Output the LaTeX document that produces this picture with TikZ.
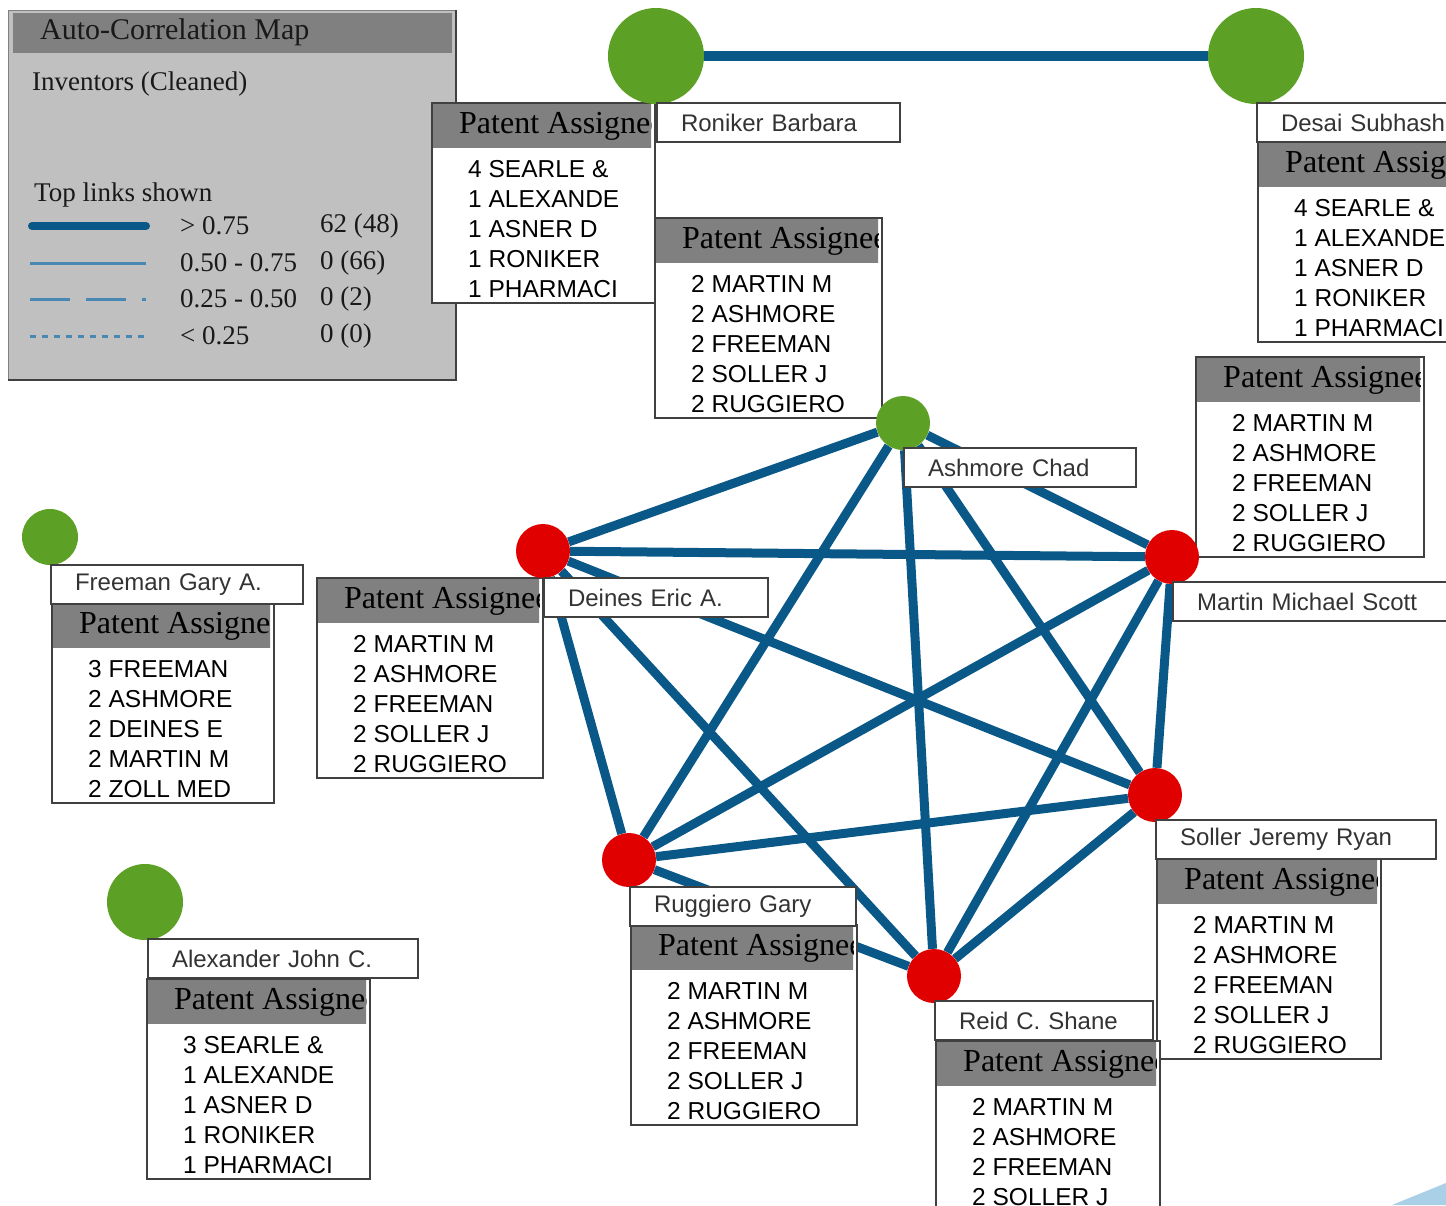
\documentclass[tikz,border=0pt]{standalone}
\usepackage{fontspec}
\setmainfont{Liberation Serif}
\setsansfont{Liberation Sans}
\usetikzlibrary{positioning, calc, backgrounds}

\definecolor{linkblue}{RGB}{10, 88, 136}
\definecolor{lightlink}{RGB}{72, 136, 178}
\definecolor{invgreen}{RGB}{92, 160, 38}
\definecolor{corered}{RGB}{224, 0, 0}
\definecolor{panel}{RGB}{192, 192, 192}
\definecolor{headbar}{RGB}{128, 128, 128}
\definecolor{boxedge}{RGB}{64, 64, 64}
\definecolor{fade}{RGB}{170, 208, 232}

% assignee list of one inventor: key, top-left corner, width, entries
\newcommand{\assignees}[4]{%
  \fill[white] (#2) rectangle ++(#3,200);
  \begin{scope}
    \clip (#2) rectangle ++(#3-4,45);
    \fill[headbar] (#2) rectangle ++(#3,45);
    \node[headtext] (#1-head) at ($(#2)+(27,23)$) {Patent Assignee};
  \end{scope}
  \begin{scope}
    \clip (#2) rectangle ++(#3,200);
    \foreach \entry [count=\i] in {#4}
      \node[listentry] (#1-\i) at ($(#2)+(36,44+30*\i)$) {\entry};
  \end{scope}
  \draw[boxedge, line width=2pt] (#2) rectangle ++(#3,200);}

\begin{document}
\begin{tikzpicture}[x=1pt, y=-1pt,
    inv/.style={circle, inner sep=0pt, fill=invgreen, minimum size=#1},
    core/.style={circle, inner sep=0pt, fill=corered, minimum size=54pt},
    linkline/.style={draw=linkblue, line width=9pt},
    namebox/.style={anchor=north west, draw=boxedge, line width=2pt, fill=white,
                    minimum height=39pt, inner xsep=24pt, inner ysep=0pt,
                    text width=#1, align=left, text=black!80,
                    font=\sffamily\fontsize{24}{28}\selectfont},
    headtext/.style={anchor=west, inner sep=0pt, text=black,
                     font=\fontsize{32}{36}\selectfont},
    listentry/.style={anchor=base west, inner sep=0pt,
                      font=\sffamily\fontsize{24.5}{30}\selectfont},
    legendtext/.style={anchor=west, inner sep=0pt, text=black!90,
                       font=\fontsize{27}{32}\selectfont}]
    \useasboundingbox (0,0) rectangle (1446,1205);

    % Legend
    \fill[panel] (8,10) rectangle (456,380);
    \fill[headbar] (13,13) rectangle (452,53);
    \draw[gray, line width=1pt] (8,380) -- (8,10) -- (456,10);
    \draw[boxedge, line width=2pt] (456,10) -- (456,380) -- (8,380);
    \node[legendtext, font=\fontsize{30}{36}\selectfont] (title) at (40,32) {Auto-Correlation Map};
    \node[legendtext] (dataset) at (32,84) {Inventors (Cleaned)};
    \node[legendtext] (toplinks) at (34,195) {Top links shown};
    \draw[linkblue, line width=8pt, line cap=round] (32,226) -- (146,226);
    \draw[lightlink, line width=3pt] (30,263) -- (146,263);
    \draw[lightlink, line width=3pt, dash pattern=on 40pt off 16pt] (30,299) -- (146,299);
    \draw[lightlink, line width=3pt, dash pattern=on 6pt off 6pt] (30,336) -- (146,336);
    \foreach \y/\range/\tally [count=\k] in {226/> 0.75/62 (48), 263/0.50 - 0.75/0 (66),
                                           299/0.25 - 0.50/0 (2), 336/< 0.25/0 (0)} {
      \node[legendtext] (range-\k) at (180,\y) {\range};
      \node[legendtext] (tally-\k) at (320,\y) {\tally};
    }

    % Assignee lists
    \assignees{roniker}{432,103}{223}{4 SEARLE \&, 1 ALEXANDE, 1 ASNER D, 1 RONIKER, 1 PHARMACI}
    \assignees{desai}{1258,142}{230}{4 SEARLE \&, 1 ALEXANDE, 1 ASNER D, 1 RONIKER, 1 PHARMACI}
    \assignees{ashmore}{655,218}{227}{2 MARTIN M, 2 ASHMORE, 2 FREEMAN, 2 SOLLER J, 2 RUGGIERO}
    \assignees{martin}{1196,357}{228}{2 MARTIN M, 2 ASHMORE, 2 FREEMAN, 2 SOLLER J, 2 RUGGIERO}
    \assignees{deines}{317,578}{226}{2 MARTIN M, 2 ASHMORE, 2 FREEMAN, 2 SOLLER J, 2 RUGGIERO}
    \assignees{freeman}{52,603}{222}{3 FREEMAN, 2 ASHMORE, 2 DEINES E, 2 MARTIN M, 2 ZOLL MED}
    \assignees{soller}{1157,859}{224}{2 MARTIN M, 2 ASHMORE, 2 FREEMAN, 2 SOLLER J, 2 RUGGIERO}
    \assignees{ruggiero}{631,925}{226}{2 MARTIN M, 2 ASHMORE, 2 FREEMAN, 2 SOLLER J, 2 RUGGIERO}
    \assignees{reid}{936,1041}{224}{2 MARTIN M, 2 ASHMORE, 2 FREEMAN, 2 SOLLER J, 2 RUGGIERO}
    \assignees{alexander}{147,979}{223}{3 SEARLE \&, 1 ALEXANDE, 1 ASNER D, 1 RONIKER, 1 PHARMACI}

    % Inventors
    \node[inv=96pt] (roniker) at (656,56) {};
    \node[inv=96pt] (desai) at (1256,56) {};
    \node[inv=54pt] (ashmore) at (903,423) {};
    \node[inv=56pt] (freeman) at (50,537) {};
    \node[inv=76pt] (alexander) at (145,902) {};
    \node[core] (deines) at (543,551) {};
    \node[core] (martin) at (1172,557) {};
    \node[core] (soller) at (1155,795) {};
    \node[core] (ruggiero) at (629,860) {};
    \node[core] (reid) at (934,976) {};

    % Name tags
    \node[namebox=195pt, below right=-2pt and 0pt of roniker.south] (roniker-name) {Roniker Barbara};
    \node[namebox=172pt, below right=-2pt and 0pt of desai.south] (desai-name) {Desai Subhash};
    \node[namebox=184pt, below right=-3pt and 0pt of ashmore.south] (ashmore-name) {Ashmore Chad};
    \node[namebox=242pt, below right=-3pt and 0pt of martin.south] (martin-name) {Martin Michael Scott};
    \node[namebox=176pt, below right=-1pt and 0pt of deines.south] (deines-name) {Deines Eric A.};
    \node[namebox=204pt, below right=-1pt and 0pt of freeman.south] (freeman-name) {Freeman Gary A.};
    \node[namebox=232pt, below right=-3pt and 0pt of soller.south] (soller-name) {Soller Jeremy Ryan};
    \node[namebox=178pt, below right=-1pt and 0pt of ruggiero.south] (ruggiero-name) {Ruggiero Gary};
    \node[namebox=170pt, below right=-3pt and 0pt of reid.south] (reid-name) {Reid C. Shane};
    \node[namebox=222pt, below right=-2pt and 2pt of alexander.south] (alexander-name) {Alexander John C.};

    % Links
    \begin{scope}[on background layer]
        \fill[white] (0,0) rectangle (1446,1205);
        \fill[fade] (1392,1205) -- (1446,1183) -- (1446,1205) -- cycle;
        \draw[linkline, line width=10pt] (roniker) -- (desai);
        \foreach \a/\b in {deines/ashmore, deines/martin, deines/soller, deines/reid,
                           deines/ruggiero, ashmore/martin, ashmore/soller, ashmore/reid,
                           ashmore/ruggiero, martin/soller, martin/reid, martin/ruggiero,
                           soller/reid, soller/ruggiero, ruggiero/reid}
            \draw[linkline] (\a) -- (\b);
    \end{scope}
\end{tikzpicture}
\end{document}
